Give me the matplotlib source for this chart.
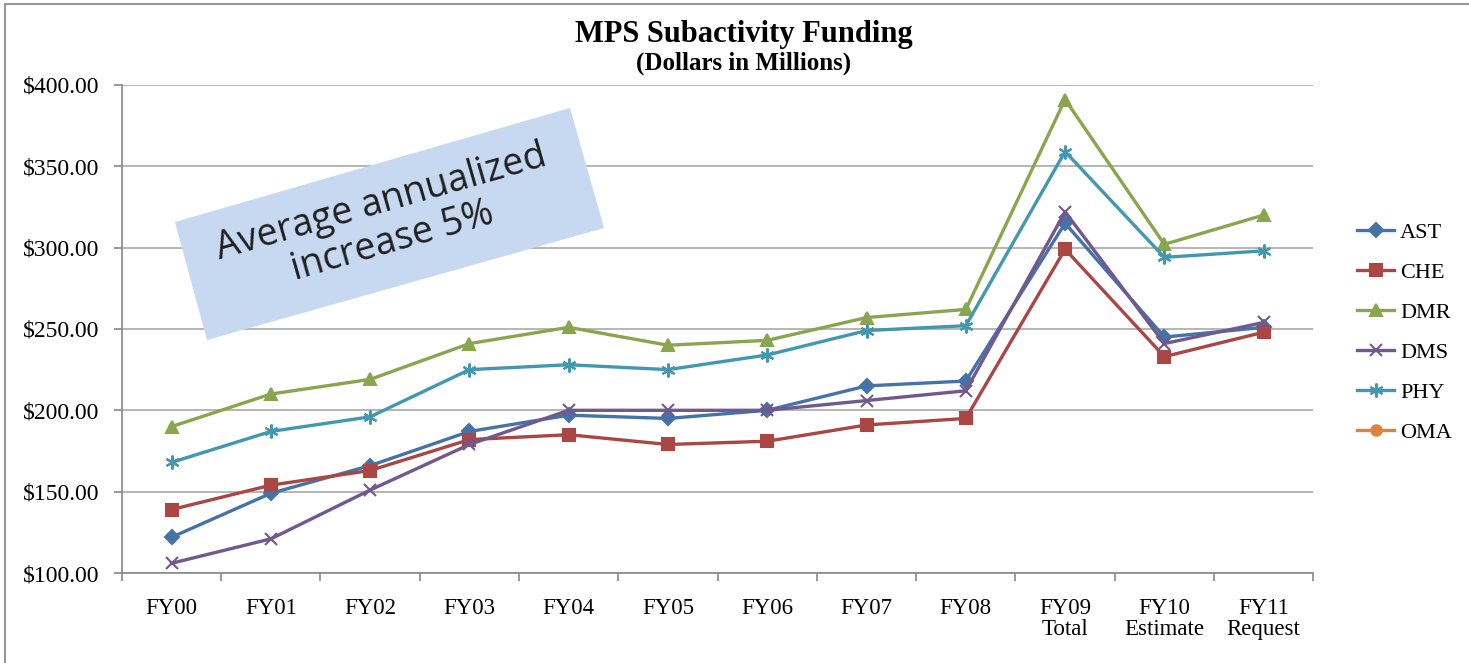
import numpy as np
import matplotlib.pyplot as plt
from matplotlib.patches import Rectangle, Polygon

# データ
years = ['FY00', 'FY01', 'FY02', 'FY03', 'FY04', 'FY05', 'FY06', 'FY07',
         'FY08', 'FY09\nTotal', 'FY10\nEstimate', 'FY11\nRequest']
ast = [122, 149, 166, 187, 197, 195, 200, 215, 218, 315, 245, 251]
che = [139, 154, 163, 182, 185, 179, 181, 191, 195, 299, 233, 248]
dmr = [190, 210, 219, 241, 251, 240, 243, 257, 262, 391, 302, 320]
dms = [106, 121, 151, 179, 200, 200, 200, 206, 212, 322, 241, 254]
phy = [168, 187, 196, 225, 228, 225, 234, 249, 252, 359, 294, 298]
oma = []  # 値なし（凡例のみ）

series = [
    ('AST', ast, '#4572A7', 'D', 7),
    ('CHE', che, '#AA4643', 's', 8),
    ('DMR', dmr, '#89A54E', '^', 9),
    ('DMS', dms, '#71588F', 'x', 9),
    ('PHY', phy, '#4198AF', (6, 2, 0), 10),
    ('OMA', oma, '#DB843D', 'o', 8),
]

serif = 'Liberation Serif'

fig = plt.figure(figsize=(14.69, 6.63), dpi=100)
ax = fig.add_axes([0.083, 0.1357, 0.811, 0.7363])

x = np.arange(len(years))
for name, vals, color, marker, ms in series:
    if len(vals) == 0:
        ax.plot([], [], color=color, marker=marker, markersize=ms, lw=2.4, label=name)
        continue
    ax.plot(x[:len(vals)], vals, color=color, marker=marker, markersize=ms,
            markeredgewidth=1.5, lw=2.4, label=name)

ax.set_xlim(-0.5, len(years) - 0.5)
ax.set_ylim(100, 400)
ax.set_yticks(np.arange(100, 401, 50))
ax.set_yticklabels(['${:.2f}'.format(v) for v in np.arange(100, 401, 50)],
                   fontfamily=serif, fontsize=17)
ax.set_xticks(x)
ax.set_xticklabels(years, fontfamily=serif, fontsize=16.5, linespacing=1.0)
ax.set_xticks(np.arange(-0.5, len(years)), minor=True)
ax.tick_params(axis='x', which='major', length=0, pad=18)
ax.tick_params(axis='x', which='minor', length=6, color='#888888', width=1.2)
ax.tick_params(axis='y', length=6, color='#888888', width=1.2, pad=10)

ax.grid(axis='y', color='#b0b0b0', lw=1.3)
ax.set_axisbelow(True)
for s in ['top', 'right']:
    ax.spines[s].set_visible(False)
for s in ['left', 'bottom']:
    ax.spines[s].set_color('#888888')
    ax.spines[s].set_linewidth(1.2)

# タイトル
fig.text(0.506, 0.948, 'MPS Subactivity Funding', ha='center', va='center',
         fontfamily=serif, fontweight='bold', fontsize=22)
fig.text(0.506, 0.905, '(Dollars in Millions)', ha='center', va='center',
         fontfamily=serif, fontweight='bold', fontsize=18)

# 凡例
leg = fig.legend(loc='upper left', bbox_to_anchor=(0.9235, 0.665), frameon=False,
                 prop={'family': serif, 'size': 16}, handlelength=1.7,
                 labelspacing=0.88, handletextpad=0.25, borderaxespad=0.0,
                 borderpad=0.0)

# 注釈ボックス（回転）
W, H = 1469, 663
pts = [(175, 222), (570, 108), (604, 228), (207, 340)]
poly = Polygon([(px / W, 1 - py / H) for px, py in pts], closed=True,
               transform=fig.transFigure, facecolor='#C6D9F1', edgecolor='none',
               zorder=5)
fig.patches.append(poly)
fig.text(387 / W, 1 - 222 / H, 'Average annualized\nincrease 5%', ha='center',
         va='center', rotation=16, rotation_mode='anchor', fontfamily='Open Sans',
         fontsize=27, color='#1F1F1F', linespacing=1.1, zorder=6)

# 外枠
fig.patches.append(Rectangle((5 / W, -0.1), 1.2, 1 - 4 / H + 0.1, fill=False,
                             edgecolor='#999999', lw=1.5,
                             transform=fig.transFigure))

fig.savefig('out.png', dpi=100)
